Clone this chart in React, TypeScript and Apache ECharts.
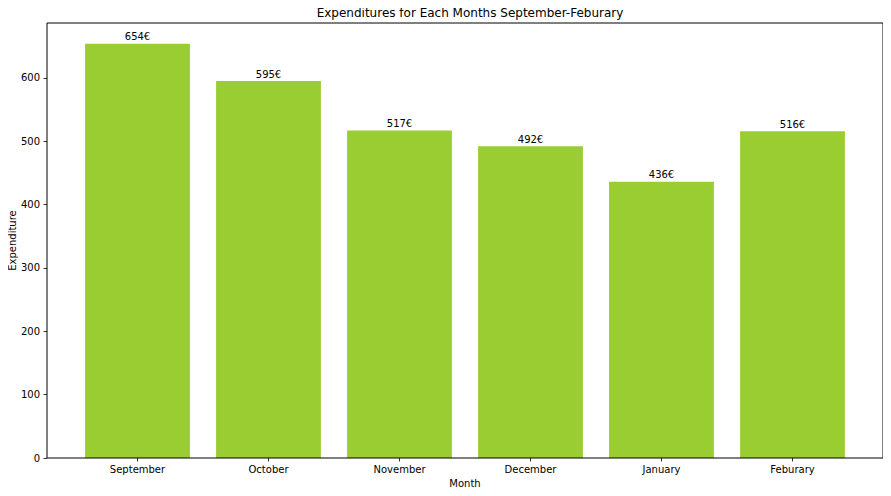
import React, { useEffect, useRef } from "react";
import * as echarts from "echarts";

const months = ["September", "October", "November", "December", "January", "Feburary"];
const expenditures = [654, 595, 517, 492, 436, 516];
const yTicks = [0, 100, 200, 300, 400, 500, 600];

const FONT = "DejaVu Sans";

export default function App() {
  const ref = useRef<HTMLDivElement>(null);
  useEffect(() => {
    if (!ref.current) return;
    const chart = echarts.init(ref.current, null, { renderer: "svg" });
    chart.setOption({
      animation: false,
      backgroundColor: "#ffffff",
      textStyle: { fontFamily: FONT },
      title: {
        text: "Expenditures for Each Months September-Feburary",
        left: 465,
        top: 2,
        textAlign: "center",
        textStyle: { fontFamily: FONT, fontSize: 12, fontWeight: "normal", color: "#000" },
      },
      grid: { left: 72, right: 33, top: 23, bottom: 38, outerBoundsMode: "none", containLabel: false },
      xAxis: {
        type: "category",
        data: months,
        axisLine: { show: false },
        axisTick: { show: true, alignWithLabel: true, length: 3.5, lineStyle: { color: "#000", width: 0.8 } },
        axisLabel: { margin: 6, fontFamily: FONT, fontSize: 10, color: "#000" },
        name: "Month",
        nameLocation: "middle",
        nameGap: 19,
        nameTextStyle: { fontFamily: FONT, fontSize: 10, color: "#000" },
        splitLine: { show: false },
      },
      yAxis: {
        type: "value",
        min: 0,
        max: 686.7,
        offset: 25,
        axisLine: { show: false },
        axisTick: { show: true, length: 3.5, customValues: yTicks, lineStyle: { color: "#000", width: 0.8 } },
        axisLabel: { margin: 7, fontFamily: FONT, fontSize: 10, color: "#000", customValues: yTicks },
        splitLine: { show: false },
      },
      series: [
        {
          type: "bar",
          data: expenditures,
          barWidth: "80%",
          itemStyle: { color: "#9ACD32" },
          label: {
            show: true,
            position: "top",
            distance: 2,
            formatter: (p: any) => `${p.value}€`,
            fontFamily: FONT,
            fontSize: 10,
            color: "#000",
          },
        },
      ],
      graphic: [
        {
          type: "rect",
          shape: { x: 47, y: 23, width: 836, height: 435 },
          style: { fill: "none", stroke: "#000", lineWidth: 1 },
          z: 100,
          silent: true,
        },
        {
          type: "text",
          x: 12,
          y: 240.5,
          rotation: Math.PI / 2,
          style: {
            text: "Expenditure",
            fontFamily: FONT,
            fontSize: 10,
            fill: "#000",
            align: "center",
            verticalAlign: "middle",
          },
          silent: true,
        },
      ],
    });
    return () => chart.dispose();
  }, []);
  return <div ref={ref} style={{ width: 891, height: 496, margin: -8 }} />;
}
